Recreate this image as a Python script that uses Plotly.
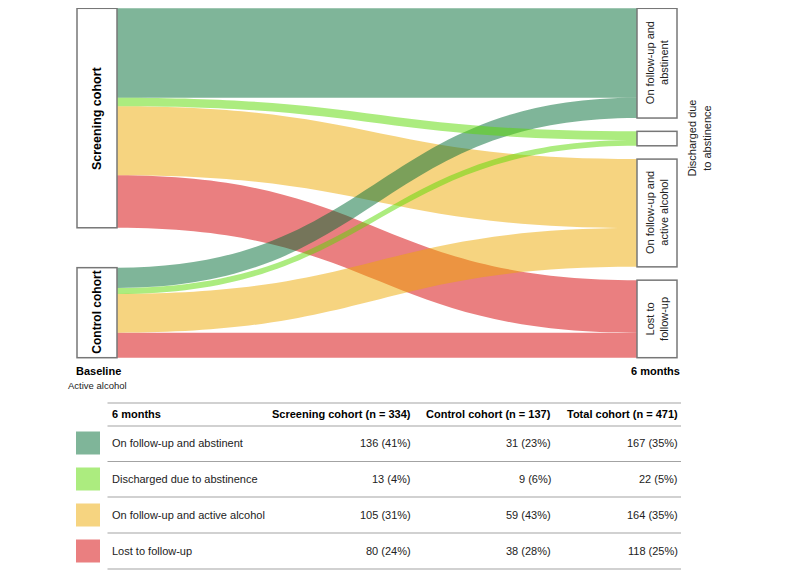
import plotly.graph_objects as go

# ---------------- data ----------------
cohort_labels = ["Screening cohort", "Control cohort"]
outcome_labels = ["On follow-up and abstinent", "Discharged due to abstinence",
                  "On follow-up and active alcohol", "Lost to follow-up"]
outcome_node_text = ["On follow-up and<br>abstinent", "Discharged due<br>to abstinence",
                     "On follow-up and<br>active alcohol", "Lost to<br>follow-up"]
screening_counts = [136, 13, 105, 80]
control_counts = [31, 9, 59, 38]
total_counts = [167, 22, 164, 118]
screening_pct = [41, 4, 31, 24]
control_pct = [23, 6, 43, 28]
total_pct = [35, 5, 35, 25]
table_headers = ["6 months", "Screening cohort (n = 334)", "Control cohort (n = 137)", "Total cohort (n = 471)"]
stage_labels = ["Baseline", "6 months"]
baseline_sub = "Active alcohol"

# ---------------- style ----------------
W, H = 787, 574
OFF = 8  # page body margin offset
FONT = "Arial, 'Liberation Sans', sans-serif"
link_colors = ["rgba(0,107,51,0.5)", "rgba(89,217,0,0.5)",
               "rgba(237,169,1,0.5)", "rgba(213,0,1,0.5)"]
TXT = "#222222"
LINE = "#a3a3a3"

# sankey placement (screen pixels)
SX0, SX1 = 77.0, 677.0
SY0, SY1 = 8.3, 357.7
NODE_W = 40
PAD = 13.3
SW, SH = SX1 - SX0, SY1 - SY0


def P(xpx, ypx):
    return (xpx - OFF) / W, 1 - (ypx - OFF) / H


n_total = sum(screening_counts) + sum(control_counts)
ky = (SH - (len(outcome_labels) - 1) * PAD) / n_total

cohort_totals = [sum(screening_counts), sum(control_counts)]
x_left = (NODE_W / 2) / SW
x_right = 1 - x_left
y_nodes_left = [(cohort_totals[0] * ky / 2) / SH, 1 - (cohort_totals[1] * ky / 2) / SH]
y_nodes_right = []
acc = 0.0
for t in total_counts:
    y_nodes_right.append((acc + t * ky / 2) / SH)
    acc += t * ky + PAD

node_x = [x_left, x_left] + [x_right] * 4
node_y = y_nodes_left + y_nodes_right

# links drawn in order: red, yellow, dark green, light green
order = [3, 2, 0, 1]
src, tgt, val, col = [], [], [], []
for k in order:
    for ci, counts in enumerate([screening_counts, control_counts]):
        src.append(ci)
        tgt.append(2 + k)
        val.append(counts[k])
        col.append(link_colors[k])

dx0, dy1 = P(SX0, SY0)
dx1, dy0 = P(SX1, SY1)
fig = go.Figure(go.Sankey(
    arrangement="fixed",
    domain=dict(x=[dx0, dx1], y=[dy0, dy1]),
    node=dict(label=[""] * 6, x=node_x, y=node_y, pad=PAD, thickness=NODE_W,
              color="white", line=dict(color="#777777", width=1.5),
              hoverinfo="skip"),
    link=dict(source=src, target=tgt, value=val, color=col, hoverinfo="skip"),
))

annotations = []


def add_text(xpx, ypx, text, size=11, bold=False, xanchor="center", angle=0, color=TXT):
    x, y = P(xpx, ypx)
    annotations.append(dict(
        x=x, y=y, xref="paper", yref="paper", text=f"<b>{text}</b>" if bold else text,
        showarrow=False, xanchor=xanchor, yanchor="middle", textangle=angle,
        font=dict(family=FONT, size=size, color=color), align="center"))


# node labels
lx = SX0 + x_left * SW
rx = SX0 + x_right * SW
add_text(lx, SY0 + y_nodes_left[0] * SH, cohort_labels[0], size=12.5, bold=True, angle=-90, color="#000")
add_text(lx, SY0 + y_nodes_left[1] * SH, cohort_labels[1], size=12, bold=True, angle=-90, color="#000")
for i, t in enumerate(outcome_node_text):
    xc = rx if i != 1 else rx + 42
    add_text(xc, SY0 + y_nodes_right[i] * SH, t, size=11, angle=-90)

# stage labels
add_text(lx + 1, 371, stage_labels[0], size=11, bold=True, color="#000")
add_text(lx, 385, baseline_sub, size=9.5)
add_text(rx - 2, 371, stage_labels[1], size=11, bold=True, color="#000")

# ---------------- table ----------------
shapes = []
TX0, TX1 = 107.5, 681
LEFT_X = 110
col_right = [413, 553, 680]
header_y = 414
row_y = [443, 479, 515, 551]
line_y = [403, 426, 461.5, 497, 533, 569]
for ly in line_y:
    x0, y0 = P(TX0, ly)
    x1, _ = P(TX1, ly)
    shapes.append(dict(type="line", xref="paper", yref="paper", x0=x0, x1=x1, y0=y0, y1=y0,
                       line=dict(color=LINE, width=1.2)))

add_text(LEFT_X, header_y, table_headers[0], size=11, bold=True, xanchor="left", color="#000")
for j in range(3):
    add_text(col_right[j], header_y, table_headers[j + 1], size=11, bold=True, xanchor="right", color="#000")

cols_vals = [(screening_counts, screening_pct), (control_counts, control_pct), (total_counts, total_pct)]
for i, lab in enumerate(outcome_labels):
    y = row_y[i]
    x0, y0 = P(76, y - 11.5)
    x1, y1 = P(100, y + 11.5)
    shapes.append(dict(type="rect", xref="paper", yref="paper", x0=x0, x1=x1, y0=y1, y1=y0,
                       fillcolor=link_colors[i], line=dict(width=0)))
    add_text(LEFT_X, y, lab, size=11, xanchor="left")
    for j, (cnt, pct) in enumerate(cols_vals):
        add_text(col_right[j], y, f"{cnt[i]} ({pct[i]}%)", size=11, xanchor="right")

fig.update_layout(
    width=W, height=H, margin=dict(l=0, r=0, t=0, b=0),
    paper_bgcolor="white", plot_bgcolor="white",
    annotations=annotations, shapes=shapes,
    font=dict(family=FONT),
)

fig.write_html("out.html")
